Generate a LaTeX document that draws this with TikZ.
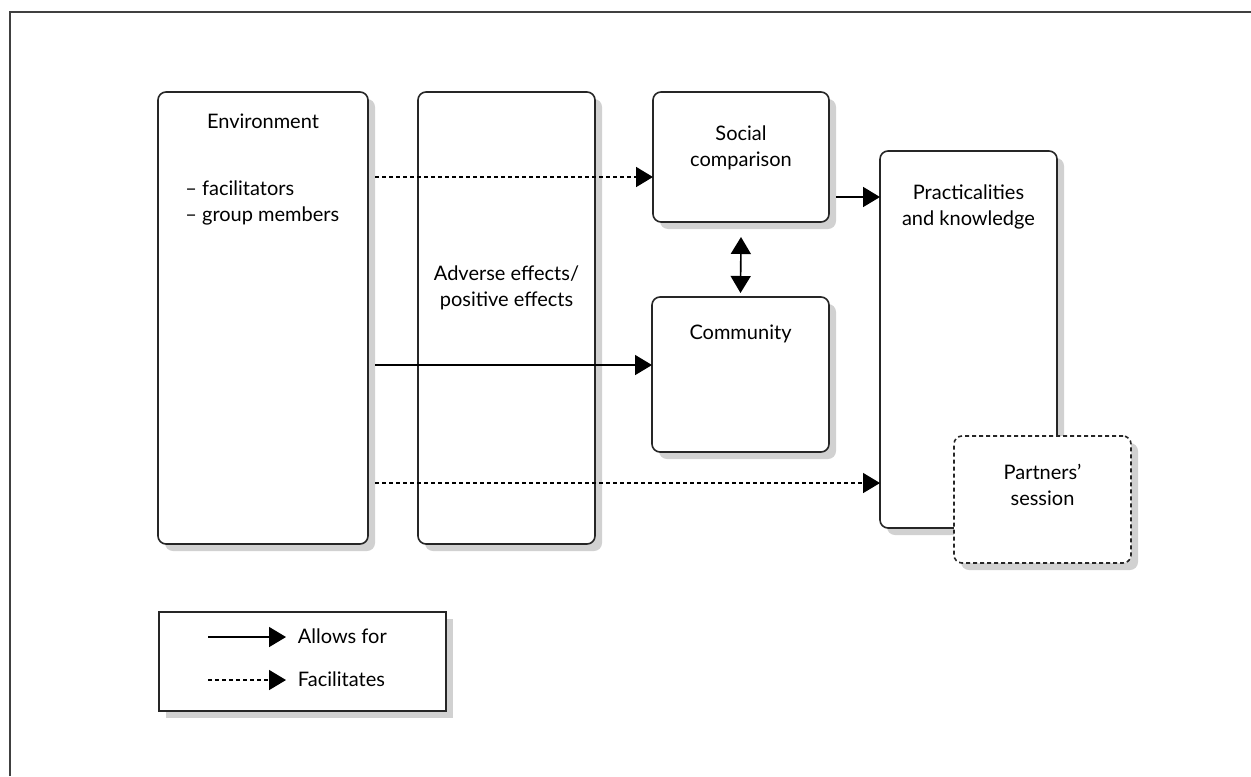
\documentclass[tikz,border=0pt]{standalone}
\usepackage{fontspec}
\setmainfont{Lato}
\usetikzlibrary{arrows.meta,shadows}
\begin{document}
\begin{tikzpicture}[x=0.5pt,y=-0.5pt,
  box/.style={draw=black!85,line width=0.8pt,rounded corners=4pt,fill=white,
    inner sep=0pt,outer sep=0pt,
    drop shadow={shadow xshift=3.5pt,shadow yshift=-3.5pt,fill=black!18,opacity=1}},
  dbox/.style={box,dash pattern=on 2pt off 1.5pt},
  legbox/.style={box,rounded corners=0pt},
  txt/.style={font=\fontsize{10}{13}\selectfont,align=center,anchor=base,inner sep=0pt,text=black},
  ltxt/.style={txt,align=left,anchor=base west},
  conn/.style={line width=0.8pt,-{Triangle[length=8.5pt,width=10pt]}},
  dconn/.style={conn,dash pattern=on 2pt off 1.5pt},
  bconn/.style={line width=0.8pt,{Triangle[length=8.5pt,width=10pt]}-{Triangle[length=8.5pt,width=10pt]}}
]
\useasboundingbox (0,0) rectangle (1251,776);
% outer frame (top and left)
\coordinate (fa) at (10,776);
\coordinate (fb) at (10,12);
\coordinate (fc) at (1251,12);
\draw[line width=1pt,black!75] (fa) -- (fb) -- (fc);

% boxes
\node[box,minimum width=105pt,minimum height=226pt] (env) at (263,318) {};
\node[box,minimum width=88.5pt,minimum height=226pt] (adv) at (506.5,318) {};
\node[box,minimum width=88pt,minimum height=65pt] (soc) at (741,157) {};
\node[box,minimum width=88.5pt,minimum height=77.5pt] (com) at (740.5,374.5) {};
\node[box,minimum width=88.5pt,minimum height=188.5pt] (pra) at (968.5,339.5) {};
\node[dbox,minimum width=88.5pt,minimum height=63.5pt] (par) at (1042.5,499.5) {};
\node[legbox,minimum width=143.5pt,minimum height=49.5pt] (leg) at (302.5,661.5) {};

% texts (anchor = baseline of last line)
\node[txt] (envt) at (263,128) {Environment};
\node[ltxt] (envi) at (185,221.7) {– facilitators\\– group members};
\node[txt] (advt) at (506.5,306.7) {Adverse effects/\\positive effects};
\node[txt] (soct) at (741,166) {Social\\comparison};
\node[txt] (comt) at (740.5,339) {Community};
\node[txt] (prat) at (968.5,225.7) {Practicalities\\and knowledge};
\node[txt] (part) at (1042.5,505.7) {Partners’\\session};

% connectors
\draw[dconn] ([shift={(3.5pt,-10pt)}]env.east |- soc.west) -- ([yshift=-10pt]soc.west);
\draw[conn] ([shift={(3.5pt,4.75pt)}]env.east |- com.west) -- ([yshift=4.75pt]com.west);
\draw[dconn] ([shift={(3.5pt,-71.75pt)}]env.east |- pra.west) -- ([yshift=-71.75pt]pra.west);
\draw[conn] ([shift={(3.5pt,-20pt)}]soc.east) -- ([yshift=-20pt]soc.east -| pra.west);
\draw[bconn] ([yshift=-7.5pt]soc.south) -- ([yshift=2pt]com.north);

% legend
\coordinate (l1a) at (208,637);
\coordinate (l1b) at (286,637);
\coordinate (l2a) at (208,680);
\coordinate (l2b) at (286,680);
\draw[conn] (l1a) -- (l1b);
\draw[dconn] (l2a) -- (l2b);
\node[ltxt] (lt1) at (297.5,643.3) {Allows for};
\node[ltxt] (lt2) at (297.5,686.7) {Facilitates};
\end{tikzpicture}
\end{document}
